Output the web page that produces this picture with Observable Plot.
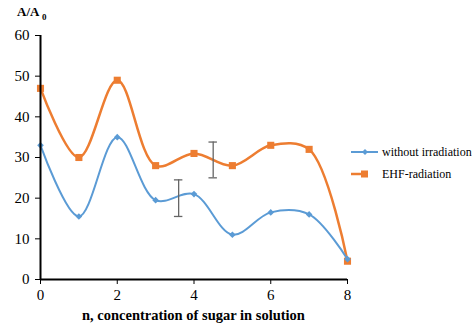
<!DOCTYPE html>
<html><head><meta charset="utf-8">
<script src="https://cdn.jsdelivr.net/npm/d3@7"></script>
<script src="https://cdn.jsdelivr.net/npm/@observablehq/plot@0.6"></script>
<style>
body{margin:0;background:#fff;}
#wrap{position:relative;width:473px;height:323px;font-family:"Liberation Serif","Times New Roman",serif;}
.lbl{position:absolute;font-weight:bold;font-size:14.5px;line-height:15px;color:#000;white-space:nowrap;}
.leg{position:absolute;font-size:12px;line-height:14px;color:#000;white-space:nowrap;display:flex;align-items:center;}
.leg svg{margin-right:3px;}
</style>
</head><body>
<div id="wrap"></div>
<script>
const n = [0, 1, 2, 3, 4, 5, 6, 7, 8];
const withoutIrr = [33, 15.5, 35, 19.5, 21, 11, 16.5, 16, 5];
const ehf = [47, 30, 49, 28, 31, 28, 33, 32, 4.5];
const errX = [3.6, 4.5];
const errLo = [15.5, 25];
const errHi = [24.5, 33.8];
const seriesNames = ["without irradiation", "EHF-radiation"];
const colors = ["#5B9BD5", "#ED7D31"];
const xTicks = [0, 2, 4, 6, 8];
const yTicks = [0, 10, 20, 30, 40, 50, 60];

const blue = n.map((x, i) => ({x, y: withoutIrr[i]}));
const orange = n.map((x, i) => ({x, y: ehf[i]}));
const errs = errX.map((x, i) => ({x, lo: errLo[i], hi: errHi[i]}));
const capW = 0.11;
const serif = "'Liberation Serif', 'Times New Roman', serif";

const chart = Plot.plot({
  width: 473, height: 323,
  marginLeft: 40, marginRight: 126, marginTop: 35, marginBottom: 44,
  style: {fontFamily: serif, fontSize: "15px", background: "white", color: "#000"},
  x: {domain: [0, 8], ticks: xTicks},
  y: {domain: [0, 60], ticks: yTicks},
  marks: [
    Plot.axisX({ticks: xTicks, tickSize: 5, tickPadding: 5, label: null, fontSize: 15}),
    Plot.axisY({ticks: yTicks, tickSize: 5, tickPadding: 6, label: null, fontSize: 15}),
    Plot.line(orange, {x: "x", y: "y", stroke: colors[1], strokeWidth: 2.5, curve: "catmull-rom"}),
    Plot.line(blue, {x: "x", y: "y", stroke: colors[0], strokeWidth: 2, curve: "catmull-rom"}),
    Plot.ruleX(errs, {x: "x", y1: "lo", y2: "hi", stroke: "#666", strokeWidth: 1.3}),
    Plot.ruleY(errs, {y: "lo", x1: d => d.x - capW, x2: d => d.x + capW, stroke: "#666", strokeWidth: 1.3}),
    Plot.ruleY(errs, {y: "hi", x1: d => d.x - capW, x2: d => d.x + capW, stroke: "#666", strokeWidth: 1.3}),
    Plot.dot(orange, {x: "x", y: "y", symbol: "square", r: 4, fill: colors[1], stroke: "none"}),
    Plot.dot(blue, {x: "x", y: "y", symbol: "diamond2", r: 3, fill: colors[0], stroke: "none"}),
    Plot.ruleX([0], {stroke: "#000", strokeWidth: 2}),
    Plot.ruleY([0], {stroke: "#000", strokeWidth: 2})
  ]
});
const wrap = document.getElementById("wrap");
wrap.appendChild(chart);

const yl = document.createElement("div");
yl.className = "lbl";
yl.style.left = "17px"; yl.style.top = "4px";
yl.style.fontSize = "13px";
yl.innerHTML = "A/A <sub style='font-size:9px;line-height:0'>0</sub>";
wrap.appendChild(yl);

const xl = document.createElement("div");
xl.className = "lbl";
xl.style.left = "82px"; xl.style.top = "308px";
xl.textContent = "n, concentration of sugar in solution";
wrap.appendChild(xl);

const legTops = [145, 167];
seriesNames.forEach((name, i) => {
  const d = document.createElement("div");
  d.className = "leg";
  d.style.left = "351px"; d.style.top = legTops[i] + "px";
  const marker = i === 0
    ? `<path d="M14 3 L17 6 L14 9 L11 6 Z" fill="${colors[0]}"/>`
    : `<rect x="10" y="2.5" width="7" height="7" fill="${colors[1]}"/>`;
  const lineEnd = i === 0 ? 27 : 12;
  d.innerHTML = `<svg width="28" height="12"><line x1="0" x2="${lineEnd}" y1="6" y2="6" stroke="${colors[i]}" stroke-width="${i===0?2:2.5}"/>${marker}</svg><span>${name}</span>`;
  wrap.appendChild(d);
});
</script>
</body></html>
